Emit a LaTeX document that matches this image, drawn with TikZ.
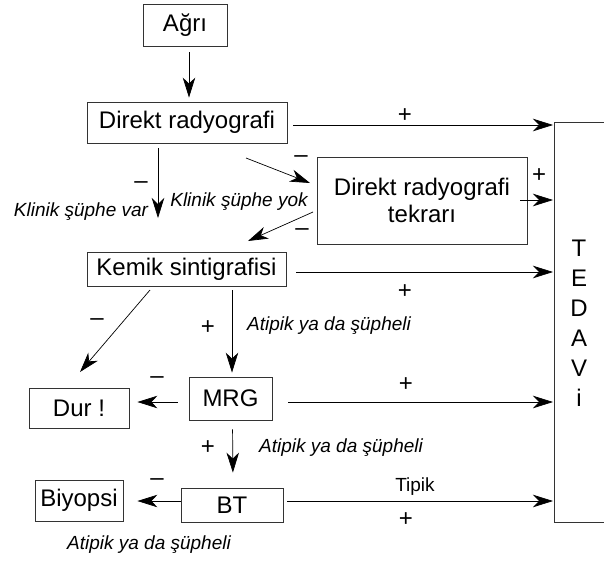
\documentclass[tikz,border=0pt]{standalone}
\usepackage{fontspec}
\setmainfont{Liberation Sans}
\usetikzlibrary{arrows.meta}
\begin{document}
\begin{tikzpicture}[x=1pt,y=-1pt,
  box/.style={draw=black!80,line width=0.8pt,inner sep=0pt,align=center,font=\fontsize{24}{27}\selectfont},
  arr/.style={-{Stealth[length=20pt,width=12.5pt,inset=6pt]},line width=0.7pt},
  lab/.style={inner sep=0pt,font=\fontsize{19}{22}\selectfont\itshape},
  sgn/.style={inner sep=0pt,font=\fontsize{24}{27}\selectfont},
  edge line/.style={draw=black!80,line width=0.8pt}]
\useasboundingbox (0,0) rectangle (604,560);
% boxes
\node[box,minimum width=84pt,minimum height=42pt] (agri) at (185,25) {Ağrı};
\node[box,minimum width=200pt,minimum height=41pt] (dr) at (187,122.5) {Direkt radyografi};
\node[box,minimum width=210pt,minimum height=87pt] (drt) at (422,200.5) {Direkt radyografi\\tekrarı};
\node[box,minimum width=199pt,minimum height=34pt] (ks) at (186.5,269) {Kemik sintigrafisi};
\node[box,minimum width=83pt,minimum height=43pt] (mrg) at (230.5,398.5) {MRG};
\node[box,minimum width=100pt,minimum height=40pt] (dur) at (79,408) {Dur !};
\node[box,minimum width=102pt,minimum height=34pt] (bt) at (232,505) {BT};
\node[box,minimum width=88pt,minimum height=41pt] (biy) at (79,500.5) {Biyopsi};
% treatment column
\draw[edge line] (604,122) -- (554,122) -- (554,522) -- (604,522);
\node[inner sep=0pt,align=center,font=\fontsize{24}{30}\selectfont] (tedavi) at (579,323) {T\\E\\D\\A\\V\\i};
\coordinate (tA) at (553,125);
\coordinate (tB) at (553,200);
\coordinate (tC) at (553,272);
\coordinate (tD) at (553,402);
\coordinate (tE) at (553,501);
% free ends
\coordinate (a1) at (158,218);
\coordinate (d1) at (246,158);
\coordinate (d2) at (310,183);
\coordinate (d3) at (313,212);
\coordinate (d4) at (248,241);
\coordinate (d5) at (150,290);
\coordinate (d6) at (80,372);
% connectors
\draw[arr,shorten <=6pt,shorten >=4pt] ([xshift=4pt]agri.south) -- ([xshift=2pt]dr.north);
\draw[arr,shorten <=6pt] (dr.east |- tA) -- (tA);
\draw[arr,shorten <=5pt] ([xshift=-29pt]dr.south) -- (a1);
\draw[arr] (d1) -- (d2);
\draw[arr,shorten <=-7pt] (drt.east |- tB) -- (tB);
\draw[arr] (d3) -- (d4);
\draw[arr,shorten <=10pt] (ks.east |- tC) -- (tC);
\draw[arr] (d5) -- (d6);
\draw[arr,shorten <=4pt,shorten >=4pt] ([xshift=1.5pt]ks.south -| mrg.north) -- ([xshift=1.5pt]mrg.north);
\draw[arr,shorten <=11pt,shorten >=8pt] (mrg.west |- tD) -- (dur.east |- tD);
\draw[arr,shorten <=16pt] (mrg.east |- tD) -- (tD);
\draw[arr,shorten <=9pt,shorten >=15pt] ([xshift=2pt]mrg.south) -- ([xshift=1pt]bt.north);
\draw[arr,shorten >=14pt] (bt.west |- tE) -- (biy.east |- tE);
\draw[arr,shorten <=4pt] (bt.east |- tE) -- (tE);
% labels
\node[sgn] (p1) at (405,116) {+};
\node[sgn] (m1) at (141,185) {–};
\node[lab] (kv) at (81,212) {Klinik şüphe var};
\node[sgn] (m2) at (301,159) {–};
\node[lab] (ky) at (239,202) {Klinik şüphe yok};
\node[sgn] (p2) at (539,176) {+};
\node[sgn] (m3) at (302,232) {–};
\node[sgn] (p3) at (405,292) {+};
\node[sgn] (m4) at (97,322) {–};
\node[sgn] (p4) at (208,328) {+};
\node[lab] (at1) at (329,326) {Atipik ya da şüpheli};
\node[sgn] (m5) at (157,380) {–};
\node[sgn] (p5) at (406,385) {+};
\node[sgn] (p6) at (208,448) {+};
\node[lab] (at2) at (341,448) {Atipik ya da şüpheli};
\node[sgn] (m6) at (157,482) {–};
\node[inner sep=0pt,font=\fontsize{19}{22}\selectfont] (tp) at (415,487) {Tipik};
\node[sgn] (p7) at (406,520) {+};
\node[lab] (at3) at (149,545) {Atipik ya da şüpheli};
\end{tikzpicture}
\end{document}
